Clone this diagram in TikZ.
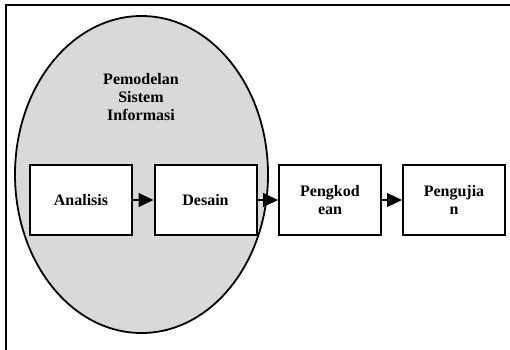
\documentclass[tikz,border=0pt]{standalone}
\usepackage{fontspec}
\setmainfont{Liberation Serif}
\usetikzlibrary{arrows.meta,shapes.geometric}
\tikzset{
  stage/.style={draw, line width=2pt, fill=white, minimum width=102pt, minimum height=70pt,
    inner sep=0pt, align=center, font=\fontsize{16}{18}\selectfont\bfseries},
  flow/.style={line width=1.2pt, -{Triangle[length=15pt,width=14pt]}},
  region/.style={ellipse, draw, line width=1.8pt, fill=black!15, minimum width=253pt,
    minimum height=317pt, inner sep=0pt}
}
\begin{document}
\begin{tikzpicture}[x=1pt,y=-1pt]
  \useasboundingbox (0,0) rectangle (510,349);
  \clip (0,0) rectangle (510,349);
  % outer frame, running past the right and bottom edges
  \draw[line width=2pt] (6,5) rectangle (530,370);
  % system-modelling region
  \node[region] (sys) at (141.5,174.5) {};
  \node[align=center, font=\fontsize{16}{18}\selectfont\bfseries] (label) at (141,97)
    {Pemodelan\\Sistem\\Informasi};
  % process stages
  \node[stage] (ana) at (81,200) {Analisis};
  \node[stage] (des) at (205.5,200) {Desain};
  \node[stage] (kod) at (330,200) {Pengkod\\ean};
  \node[stage] (uji) at (454,200) {Pengujia\\n};
  \draw[flow] (ana) -- (des);
  \draw[flow] (des) -- (kod);
  \draw[flow] (kod) -- (uji);
\end{tikzpicture}
\end{document}
